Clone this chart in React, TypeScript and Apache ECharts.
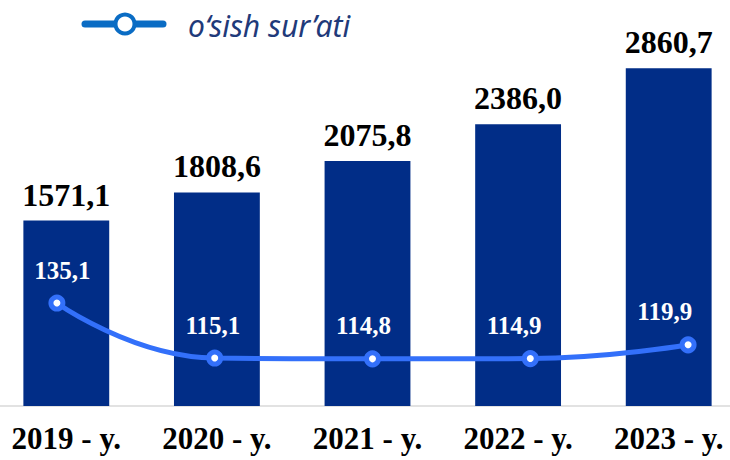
import React, { useEffect, useRef } from "react";
import * as echarts from "echarts";

const categories = ["2019 - y.", "2020 - y.", "2021 - y.", "2022 - y.", "2023 - y."];
const volumeValues = [1571.1, 1808.6, 2075.8, 2386.0, 2860.7];
const growthValues = [135.1, 115.1, 114.8, 114.9, 119.9];
const legendLabel = "o‘sish sur’ati";

const fmt = (v: number) => v.toFixed(1).replace(".", ",");

const SHIFT = 22; // chart div starts 22px left of the page edge
const CHART_W = 789;

export default function App() {
  const ref = useRef<HTMLDivElement>(null);
  useEffect(() => {
    if (!ref.current) return;
    const chart = echarts.init(ref.current, null, { renderer: "svg" });
    chart.setOption({
      animation: false,
      grid: [
        { left: 13, right: 23, top: 40, bottom: 54, containLabel: false },
        { left: 0, right: 0, top: 40, bottom: 54, containLabel: false },
      ],
      xAxis: [
        {
          type: "category",
          gridIndex: 0,
          data: categories,
          axisTick: { show: false },
          axisLine: { show: true, lineStyle: { color: "#D9D9D9", width: 1.5 } },
          axisLabel: {
            color: "#000",
            fontFamily: "Liberation Serif",
            fontWeight: "bold",
            fontSize: 31,
            margin: 17,
          },
        },
        { type: "category", gridIndex: 1, data: categories, show: false },
      ],
      yAxis: [
        { type: "value", gridIndex: 0, min: 0, max: 3100, show: false, splitLine: { show: false } },
        { type: "value", gridIndex: 1, min: 97.65, max: 230.75, show: false, splitLine: { show: false } },
        { type: "value", gridIndex: 0, min: 97.65, max: 230.75, show: false, splitLine: { show: false } },
      ],
      graphic: [
        {
          type: "line",
          shape: { x1: 85 + SHIFT, y1: 24, x2: 163 + SHIFT, y2: 24 },
          style: { stroke: "#0A6CC4", lineWidth: 7, lineCap: "round" },
        },
        {
          type: "circle",
          shape: { cx: 125 + SHIFT, cy: 24, r: 9.5 },
          style: { fill: "#fff", stroke: "#0A6CC4", lineWidth: 4 },
        },
        {
          type: "text",
          x: 188 + SHIFT,
          y: 25,
          style: {
            text: legendLabel,
            font: "italic 30px 'Noto Sans'",
            fill: "#1F3A7A",
            textVerticalAlign: "middle",
          },
        },
      ],
      series: [
        {
          type: "bar",
          data: volumeValues,
          xAxisIndex: 0,
          yAxisIndex: 0,
          barWidth: "57%",
          itemStyle: { color: "#012D87" },
          label: {
            show: true,
            position: "top",
            distance: 10,
            color: "#000",
            fontFamily: "Liberation Serif",
            fontWeight: "bold",
            fontSize: 32,
            formatter: (p: any) => fmt(p.value),
          },
        },
        {
          type: "line",
          data: growthValues,
          xAxisIndex: 1,
          yAxisIndex: 1,
          smooth: true,
          symbol: "circle",
          symbolSize: 12,
          lineStyle: { color: "#3370FA", width: 5 },
          itemStyle: { color: "#fff", borderColor: "#3370FA", borderWidth: 5 },
          label: { show: false },
          z: 5,
        },
        {
          type: "line",
          data: growthValues,
          xAxisIndex: 0,
          yAxisIndex: 2,
          symbol: "circle",
          symbolSize: 1,
          showSymbol: true,
          lineStyle: { width: 0, opacity: 0 },
          itemStyle: { color: "rgba(0,0,0,0)", opacity: 1 },
          silent: true,
          label: {
            show: true,
            position: "top",
            distance: 20,
            offset: [-4, 0],
            color: "#ffffff",
            opacity: 1,
            fontFamily: "Liberation Serif",
            fontWeight: "bold",
            fontSize: 25,
            formatter: (p: any) => fmt(p.value),
          },
          z: 6,
        },
      ],
    });
    return () => chart.dispose();
  }, []);
  return (
    <div style={{ position: "fixed", left: 0, top: 0, width: 730, height: 460, overflow: "hidden", background: "#fff" }}>
      <div ref={ref} style={{ position: "absolute", left: -SHIFT, top: 0, width: CHART_W, height: 460 }} />
    </div>
  );
}
